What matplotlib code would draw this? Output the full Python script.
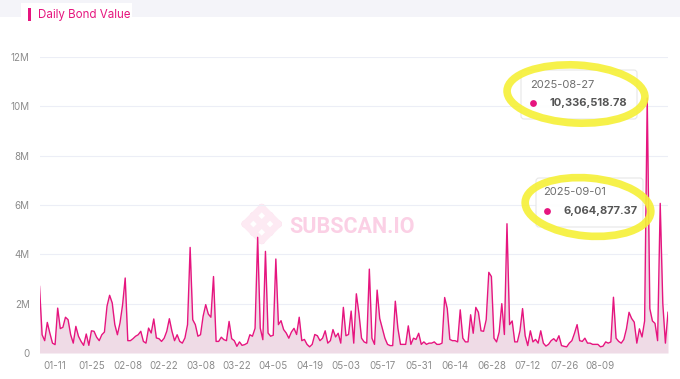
import matplotlib
matplotlib.use("Agg")
import matplotlib.pyplot as plt
import matplotlib.dates as mdates
from matplotlib.patches import Rectangle, Ellipse, Circle, FancyBboxPatch
from matplotlib.ticker import FuncFormatter
import pandas as pd

plt.rcParams['font.family'] = ['Inter', 'DejaVu Sans']

# daily bond value in millions, one value per day starting 2025-01-05
start_date = "2025-01-05"
bond_millions = [
    2.70, 0.74, 0.50, 1.24, 0.80, 0.40, 0.34, 1.82, 0.99, 1.04,
    1.45, 1.35, 0.74, 0.40, 1.08, 0.68, 0.47, 0.31, 0.77, 0.31,
    0.90, 0.88, 0.64, 0.50, 0.74, 0.85, 1.90, 2.34, 2.03, 1.15,
    0.74, 1.22, 1.96, 3.04, 0.50, 0.50, 0.58, 0.68, 0.74, 0.88,
    0.47, 0.40, 1.01, 0.81, 1.38, 0.61, 0.58, 0.47, 0.60, 0.88,
    1.39, 0.88, 0.50, 0.74, 0.47, 0.40, 0.61, 1.15, 4.28, 1.35,
    1.15, 0.68, 0.74, 1.49, 1.96, 1.58, 1.45, 3.10, 0.47, 0.47,
    0.64, 0.54, 0.50, 1.28, 0.58, 0.50, 0.27, 0.45, 0.31, 0.34,
    0.40, 0.74, 0.68, 1.00, 4.69, 1.01, 0.54, 4.12, 0.81, 0.68,
    0.72, 3.81, 1.15, 1.31, 0.95, 0.81, 0.60, 0.85, 1.00, 0.75,
    1.45, 0.50, 0.55, 0.35, 0.25, 0.35, 0.75, 0.70, 0.50, 0.60,
    0.90, 0.40, 0.50, 0.95, 0.65, 0.80, 0.40, 1.85, 0.70, 0.75,
    1.70, 0.40, 2.40, 1.60, 0.60, 0.45, 0.40, 3.40, 0.60, 0.35,
    2.55, 1.40, 1.00, 0.60, 0.35, 0.30, 0.30, 2.10, 1.00, 0.35,
    0.35, 0.35, 1.10, 0.35, 0.60, 0.55, 0.80, 0.35, 0.45, 0.35,
    0.40, 0.40, 0.45, 0.35, 0.35, 0.40, 2.25, 1.80, 0.55, 0.50,
    0.50, 0.45, 1.75, 0.60, 0.45, 0.45, 1.55, 0.80, 1.85, 1.65,
    0.90, 0.88, 1.35, 3.27, 3.10, 0.60, 0.45, 0.85, 2.00, 0.75,
    5.24, 1.15, 1.30, 0.45, 0.45, 0.90, 1.80, 0.70, 0.30, 0.90,
    0.45, 0.55, 0.40, 0.90, 0.40, 0.28, 0.35, 0.50, 0.58, 0.47,
    0.70, 0.30, 0.27, 0.25, 0.40, 0.50, 0.80, 1.15, 0.50, 0.47,
    0.60, 0.40, 0.40, 0.35, 0.35, 0.35, 0.25, 0.28, 0.45, 0.40,
    0.45, 2.26, 0.60, 0.47, 0.40, 0.55, 0.98, 1.65, 1.40, 1.25,
    0.40, 0.98, 0.65, 1.30, 10.336518, 1.80, 1.30, 1.20, 0.50, 6.064877,
    2.00, 0.40, 1.65,
]
y_ticks_millions = [0, 2, 4, 6, 8, 10, 12]
x_tick_dates = ["2025-01-11", "2025-01-25", "2025-02-08", "2025-02-22",
                "2025-03-08", "2025-03-22", "2025-04-05", "2025-04-19",
                "2025-05-03", "2025-05-17", "2025-05-31", "2025-06-14",
                "2025-06-28", "2025-07-12", "2025-07-26", "2025-08-09"]
title = "Daily Bond Value"
tips = [("2025-08-27", "10,336,518.78"), ("2025-09-01", "6,064,877.37")]

dates = pd.date_range(start_date, periods=len(bond_millions), freq="D")
values = [v * 1e6 for v in bond_millions]

pink = "#e6157f"
W, H = 680, 379
fig = plt.figure(figsize=(W / 100, H / 100), dpi=100)

# background layer (header band + watermark), pixel coordinates
bg = fig.add_axes([0, 0, 1, 1], zorder=0)
bg.set_xlim(0, W)
bg.set_ylim(H, 0)
bg.axis("off")
bg.add_patch(Rectangle((0, 0), W, 17, color="#f4f4f9", lw=0))
bg.add_patch(Rectangle((21, 3), 111, 16, color="white", lw=0))
bg.add_patch(Rectangle((28, 8), 3.2, 13, color=pink, lw=0))
bg.text(38, 15, title, color=pink, fontsize=8.3, va="center", ha="left")

# watermark logo: 3x3 dot lattice rotated 45 degrees
cx, cy, step = 261.7, 224, 8.3
pts = []
for i in range(3):
    for j in range(3):
        pts.append((cx + (i - j) * step, cy - 2 * step + (i + j) * step))
for i in range(3):
    for j in range(3):
        x0, y0 = pts[i * 3 + j]
        if j < 2:
            x1, y1 = pts[i * 3 + j + 1]
            bg.plot([x0, x1], [y0, y1], color="#fdeaf3", lw=5, solid_capstyle="round")
        if i < 2:
            x1, y1 = pts[(i + 1) * 3 + j]
            bg.plot([x0, x1], [y0, y1], color="#fdeaf3", lw=5, solid_capstyle="round")
for x0, y0 in pts:
    bg.add_patch(Circle((x0, y0), 3.6, color="#fbd2e6", lw=0))
bg.text(289, 227, "SUBSCAN.IO", color="#fbd0e5", fontsize=15.5,
        fontweight="bold", family=["Roboto", "DejaVu Sans"], va="center", ha="left")

# main chart
ax = fig.add_axes([39.5 / W, 1 - 353 / H, (668 - 39.5) / W, (353 - 57) / H], zorder=1)
ax.patch.set_alpha(0)
ax.fill_between(dates, values, 0, color="#efdbe6", lw=0)
ax.plot(dates, values, color=pink, lw=1.0)
ax.set_xlim(dates[0], dates[-1])
ax.set_ylim(0, 12e6)
ax.set_yticks([t * 1e6 for t in y_ticks_millions])
ax.yaxis.set_major_formatter(FuncFormatter(lambda v, p: "0" if v == 0 else f"{v / 1e6:.0f}M"))
ax.set_xticks(pd.to_datetime(x_tick_dates))
ax.xaxis.set_major_formatter(mdates.DateFormatter("%m-%d"))
ax.tick_params(length=0, labelsize=7, labelcolor="#8c8c8c")
ax.tick_params(axis="x", pad=6)
ax.tick_params(axis="y", pad=7)
ax.grid(axis="y", color="#eceef6", lw=0.8)
ax.set_axisbelow(True)
for s in ax.spines.values():
    s.set_visible(False)

# tooltip overlay, pixel coordinates
ov = fig.add_axes([0, 0, 1, 1], zorder=2)
ov.set_xlim(0, W)
ov.set_ylim(H, 0)
ov.axis("off")
boxes = [(521, 70, 116, 49, 530, 85, 533.5, 103.5, 549),
         (536, 178, 107, 49, 543, 192, 547.5, 211.5, 563)]
for (bx, by, bw, bh, tx, ty, dx, dy, vx), (d, v) in zip(boxes, tips):
    ov.add_patch(FancyBboxPatch((bx, by), bw, bh, boxstyle="round,pad=0,rounding_size=3",
                                fc="white", ec="#e6e6e6", lw=0.8, alpha=0.95))
    ov.text(tx, ty, d, color="#6e6e6e", fontsize=8, va="center", ha="left")
    ov.add_patch(Circle((dx, dy), 3.4, color=pink, lw=0))
    ov.text(vx, dy, v, color="#555555", fontsize=8, fontweight="bold", va="center", ha="left")

# yellow highlighter marks
ov.add_patch(Ellipse((576, 94), 138, 58, angle=3, fill=False, ec="#f6f036", lw=5.5, alpha=0.9))
ov.add_patch(Ellipse((588, 207), 126, 58, angle=5, fill=False, ec="#f6f036", lw=5.5, alpha=0.9))

fig.savefig("out.png", dpi=100)
